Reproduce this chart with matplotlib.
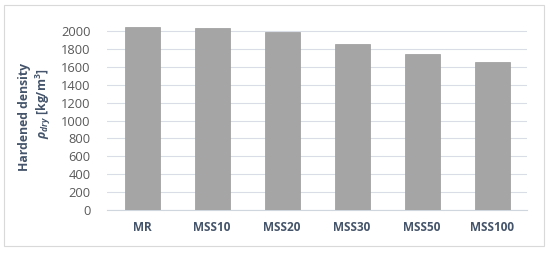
import matplotlib
matplotlib.use("Agg")
import matplotlib.pyplot as plt
from matplotlib.patches import Rectangle

categories = ["MR", "MSS10", "MSS20", "MSS30", "MSS50", "MSS100"]
density = [2045, 2033, 1985, 1858, 1740, 1657]
yticks = [0, 200, 400, 600, 800, 1000, 1200, 1400, 1600, 1800, 2000]

plt.rcParams['font.family'] = ['Open Sans', 'DejaVu Sans']
plt.rcParams['mathtext.fontset'] = 'custom'
plt.rcParams['mathtext.it'] = 'Open Sans:italic:bold'
plt.rcParams['mathtext.rm'] = 'Open Sans:bold'

fig = plt.figure(figsize=(5.5, 2.54), dpi=100)
# outer chart border
fig.patches.append(Rectangle((3.5/550, 1-245.5/254), (544-3.5)/550, (245.5-4.5)/254,
                             transform=fig.transFigure, fill=False,
                             edgecolor="#D9D9D9", linewidth=0.8))

ax = fig.add_axes([107/550, 1-210/254, 420/550, (210-13.1)/254])
x = range(len(categories))
ax.bar(x, density, width=0.5, color="#A5A5A5", edgecolor="#9A9A9A", linewidth=0.5, zorder=3)
ax.set_xlim(-0.5, len(categories)-0.5)
ax.set_ylim(0, 2200)
ax.set_yticks(yticks)
ax.set_yticklabels([str(v) for v in yticks], color="#595959", fontsize=9.3)
ax.set_xticks(list(x))
ax.set_xticklabels(categories, color="#44546A", fontsize=8.5, fontweight="bold")
ax.tick_params(axis="y", length=0, pad=12)
ax.tick_params(axis="x", length=0, pad=8)
ax.grid(axis="y", color="#D9DEE6", linewidth=0.8, zorder=0)
for s in ["top", "right", "left"]:
    ax.spines[s].set_visible(False)
ax.spines["bottom"].set_color("#D0D6DE")
ax.spines["bottom"].set_linewidth(0.8)

fig.text(25/550, 1-117/254, "Hardened density", rotation=90, ha="center", va="center",
         fontsize=8.8, fontweight="bold", color="#44546A")
fig.text(43/550, 1-104/254, r"$\rho_{dry}$ [kg/m$^\mathrm{3}$]", rotation=90, ha="center", va="center",
         fontsize=8.8, fontweight="bold", color="#44546A")

fig.savefig("out.png", dpi=100)
